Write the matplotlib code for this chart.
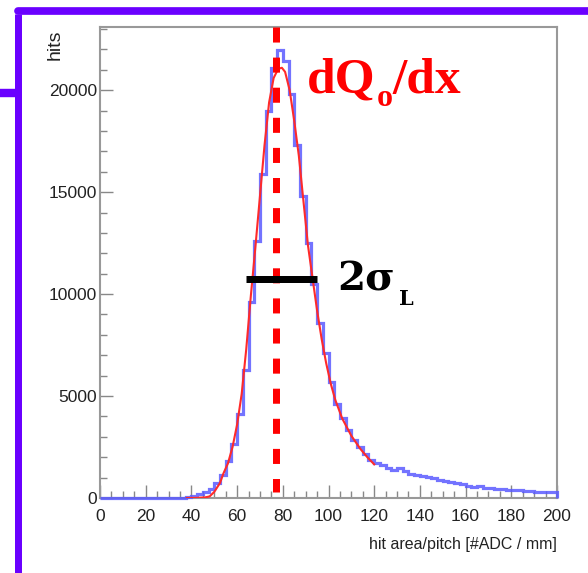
import numpy as np
import matplotlib
matplotlib.use('Agg')
import matplotlib.pyplot as plt
from matplotlib.lines import Line2D
from matplotlib.ticker import MultipleLocator

# ---------------- data ----------------
bin_edges = np.linspace(0, 200, 81)
hist_counts = [0] * 14 + [
    20, 60, 90, 180, 300, 450, 750, 1150, 1800, 2650,
    4100, 6300, 9600, 12600, 15900, 19000, 21100, 21950, 21450, 19800,
    17300, 14800, 12500, 10500, 8600, 7100, 5700, 4600, 3900, 3350,
    2850, 2500, 2150, 1850, 1720, 1600, 1450, 1370, 1460, 1300,
    1160, 1120, 1060, 1020, 960, 880, 830, 770, 730, 690,
    610, 560, 570, 510, 490, 460, 420, 400, 390, 380,
    360, 330, 300, 300, 290, 280]

fit_x = [38, 42, 46, 48, 50, 52.5, 54, 56, 58, 60, 62, 64, 66, 68, 70, 72, 74, 76,
         78, 79.6, 81, 83, 85, 87, 89, 91, 93, 95, 97, 99, 101, 103, 106, 110,
         114, 117, 120]
fit_y = [0, 5, 30, 80, 300, 735, 1200, 1700, 2500, 3600, 5100, 7300, 9900, 12300,
         14800, 17300, 19400, 20600, 21050, 21100, 20900, 20000, 18500, 16800,
         14600, 12400, 10800, 9200, 7800, 6600, 5600, 4800, 3900, 3050, 2400,
         2000, 1650]

mpv_x = 77.0            # dQo/dx marker
width_y = 10735         # 2 sigma_L bar height
width_x = [63.9, 95.0]  # 2 sigma_L bar extent

x_ticks = [0, 20, 40, 60, 80, 100, 120, 140, 160, 180, 200]
y_ticks = [0, 5000, 10000, 15000, 20000]
x_label = "hit area/pitch [#ADC / mm]"
y_label = "hits"

# ---------------- figure ----------------
W, H = 588, 573
fig = plt.figure(figsize=(W / 100, H / 100), dpi=100)
fig.patch.set_facecolor('white')

def fx(px):
    return px / W

def fy(py):
    return 1 - py / H

ax = fig.add_axes([fx(100), fy(498), (557 - 100) / W, (498 - 27) / H])
ax.set_xlim(0, 200)
ax.set_ylim(0, 23100)

ax.stairs(hist_counts, bin_edges, color='#5a5aff', lw=2.3, alpha=0.85,
          clip_on=False, zorder=3)
ax.plot(fit_x, fit_y, color='#ff2a2a', lw=1.5, zorder=4, solid_joinstyle='round')

# markers
ax.plot([mpv_x, mpv_x], [23100, 300], color='#ff0000', lw=7 * 0.72,
        dashes=(2.15, 2.15), dash_capstyle='butt', zorder=5)
ax.plot(width_x, [width_y, width_y], color='black', lw=7 * 0.72,
        solid_capstyle='butt', zorder=6)

# axes styling
for s in ax.spines.values():
    s.set_color('#999999')
    s.set_linewidth(1.5)
ax.xaxis.set_minor_locator(MultipleLocator(5))
ax.yaxis.set_minor_locator(MultipleLocator(1000))
ax.set_xticks(x_ticks)
ax.set_yticks(y_ticks)
ax.set_xticklabels([str(v) for v in x_ticks])
ax.set_yticklabels([str(v) for v in y_ticks])
tick_font = ['Liberation Sans', 'DejaVu Sans']
ax.tick_params(axis='both', which='major', direction='in', length=13 * 0.72,
               width=1.0, color='#888888', labelsize=12.5, labelcolor='#222222')
ax.tick_params(axis='both', which='minor', direction='in', length=7 * 0.72,
               width=1.0, color='#888888')
ax.tick_params(axis='x', which='both', top=False, pad=8)
ax.tick_params(axis='y', which='both', right=False, pad=2.2)
for lab in ax.get_xticklabels() + ax.get_yticklabels():
    lab.set_family(tick_font)

fig.text(fx(557), fy(545), x_label, ha='right', va='center', fontsize=11.5,
         family=tick_font, color='#222222')
fig.text(fx(55), fy(29), y_label, ha='center', va='top', rotation=90,
         fontsize=14, family=tick_font, color='#222222')

# annotations
serif_b = ['Liberation Serif', 'DejaVu Serif']
fig.text(fx(307), fy(93), "dQ", ha='left', va='baseline', fontsize=37,
         fontweight='bold', family=serif_b, color='#ff0000')
fig.text(fx(377), fy(106), "o", ha='left', va='baseline', fontsize=23,
         fontweight='bold', family=serif_b, color='#ff0000')
fig.text(fx(393), fy(93), "/dx", ha='left', va='baseline', fontsize=37,
         fontweight='bold', family=serif_b, color='#ff0000')

fig.text(fx(337), fy(290), "2σ", ha='left', va='baseline', fontsize=29,
         fontweight='bold', family=['DejaVu Serif'], color='black')
fig.text(fx(399), fy(305), "L", ha='left', va='baseline', fontsize=15,
         fontweight='bold', family=['DejaVu Serif'], color='black')

# purple frame
purple = '#6a00ff'
lw_f = 7 * 0.72
fig.add_artist(Line2D([fx(17.5), fx(17.5)], [fy(14), fy(580)], color=purple,
                      lw=lw_f, solid_capstyle='butt'))
fig.add_artist(Line2D([fx(17.5), fx(600)], [fy(11), fy(11)], color=purple,
                      lw=lw_f * 1.1, solid_capstyle='round'))
fig.add_artist(Line2D([fx(14), fx(600)], [fy(575.5), fy(575.5)], color=purple,
                      lw=lw_f, solid_capstyle='butt'))
fig.add_artist(Line2D([fx(-5), fx(16)], [fy(92.5), fy(92.5)], color=purple,
                      lw=lw_f * 1.2, solid_capstyle='butt'))

fig.savefig('out.png', dpi=100, facecolor='white')
